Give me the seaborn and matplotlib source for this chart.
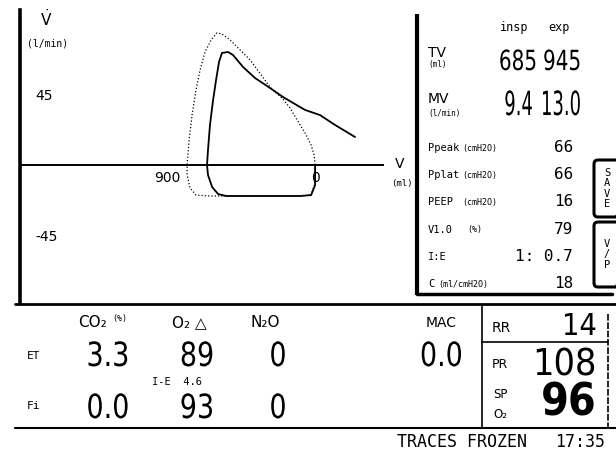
import os
import matplotlib
matplotlib.use('Agg')
import matplotlib.pyplot as plt
import seaborn as sns
import pandas as pd
from matplotlib import font_manager, patheffects
from matplotlib.font_manager import FontProperties
from matplotlib.patches import FancyBboxPatch
from matplotlib.transforms import Affine2D

# flow-volume loop (volume in ml, flow in l/min)
loop_vol = [0, 0, 24, 91, 395, 541, 590, 626, 651, 657, 651, 639, 620, 602, 584,
            566, 529, 499, 438, 365, 274, 195, 134, 61, -30, -122, -182, -243]
loop_flow = [0, -12.9, -19.3, -19.9, -19.9, -19.9, -18.6, -14.1, -6.4, 0, 9.6, 25.7,
             41.8, 54.6, 66.2, 72.0, 72.6, 70.7, 63.0, 55.9, 49.5, 43.7, 39.9, 35.4,
             32.1, 25.7, 21.9, 18.0]

# reference loop (dotted)
ref_vol = [0, 0, 24, 91, 395, 639, 724, 760, 778, 778, 766, 748, 724, 699, 669, 632,
           596, 566, 517, 395, 274, 195, 152, 109, 61, 24, 6, 0]
ref_flow = [0, -11.6, -19.3, -19.9, -19.9, -19.9, -19.3, -14.8, -6.4, 0, 16.1, 32.1,
            48.2, 61.1, 72.6, 80.4, 84.9, 84.2, 80.4, 67.5, 50.1, 42.4, 36.6, 28.9,
            20.6, 12.9, 6.4, 0]

vol_ticks = [1350, 900, 450, 0]
vol_ticklabels = ['', '900', '', '0']
flow_ticks = [45, -45]

tv_insp, tv_exp = '685', '945'
mv_insp, mv_exp = '9.4', '13.0'
row_labels = ['Ppeak', 'Pplat', 'PEEP', 'V1.0', 'I:E', 'C']
row_units = ['(cmH2O)', '(cmH2O)', '(cmH2O)', '(%)', '', '(ml/cmH2O)']
row_values = ['66', '66', '16', '79', '1: 0.7', '18']

gas_names = ['CO\u2082', 'O\u2082 \u25b3', 'N\u2082O']
gas_et = ['3.3', '89', '0']
gas_fi = ['0.0', '93', '0']
mac_et = '0.0'
ie_text = 'I-E  4.6'
rr, pr, spo2 = '14', '108', '96'
footer, clock = 'TRACES FROZEN', '17:35'


# look for a narrow face for the big monitor digits
def narrow_font(cands):
    files = {os.path.basename(f.fname): f.fname for f in font_manager.fontManager.ttflist}
    for c in cands:
        if c in files:
            return FontProperties(fname=files[c]), 1.0
    return FontProperties(family='DejaVu Sans'), 0.78


BIG, k = narrow_font(['NotoSans-Condensed.ttf', 'NotoSans-SemiCondensed.ttf',
                      'DejaVuSansCondensed.ttf', 'LiberationSansNarrow-Regular.ttf'])
BIGB, kb = narrow_font(['NotoSans-CondensedBold.ttf', 'NotoSans-SemiCondensedBold.ttf',
                        'DejaVuSansCondensed-Bold.ttf', 'LiberationSansNarrow-Bold.ttf'])
if kb < 1:
    BIGB.set_weight('bold')


# squeeze glyphs sideways around the anchor, like the tall monitor digits
class Squeeze(patheffects.AbstractPathEffect):
    def __init__(self, sx, x0):
        super().__init__()
        self.sx, self.x0 = sx, x0

    def draw_path(self, renderer, gc, tpath, affine, rgbFace=None):
        t = affine + Affine2D().translate(-self.x0, 0).scale(self.sx, 1).translate(self.x0, 0)
        renderer.draw_path(gc, tpath, t, rgbFace)


sns.set_theme(style='white')
plt.rcParams['font.family'] = ['DejaVu Sans']
plt.rcParams['mathtext.fontset'] = 'dejavusans'
MONO = 'DejaVu Sans Mono'

W, H = 616, 450
fig = plt.figure(figsize=(W / 100, H / 100), dpi=100)

# loop axes, placed in screen pixels
ax = fig.add_axes([20 / W, 1 - 302 / H, (383 - 20) / W, (302 - 10) / H])
loop = pd.DataFrame({'vol': loop_vol, 'flow': loop_flow})
ref = pd.DataFrame({'vol': ref_vol, 'flow': ref_flow})
sns.lineplot(data=ref, x='vol', y='flow', sort=False, estimator=None, color='black',
             lw=0.9, linestyle=':', ax=ax)
sns.lineplot(data=loop, x='vol', y='flow', sort=False, estimator=None, color='black',
             lw=1.3, ax=ax)
ax.set_xlim(1794, -413)
ax.set_ylim(-88, 99.6)
ax.set_xlabel('')
ax.set_ylabel('')
ax.set_facecolor('none')
for s in ['top', 'right']:
    ax.spines[s].set_visible(False)
ax.spines['left'].set_linewidth(2.6)
ax.spines['left'].set_color('black')
ax.spines['bottom'].set_position(('data', 0))
ax.spines['bottom'].set_linewidth(1.4)
ax.spines['bottom'].set_color('black')
ax.set_xticks(vol_ticks, labels=vol_ticklabels)
ax.set_yticks(flow_ticks, labels=[str(v) for v in flow_ticks])
ax.tick_params(axis='both', direction='inout', length=8, width=1.2, color='black',
               labelcolor='black', labelsize=10)
ax.tick_params(axis='x', pad=0)
ax.tick_params(axis='y', pad=-15)
for lab in ax.get_yticklabels():
    lab.set_ha('left')

# overlay in screen pixels for the monitor panels
ov = fig.add_axes([0, 0, 1, 1])
ov.set_xlim(0, W)
ov.set_ylim(H, 0)
ov.axis('off')


def txt(x, y, s, size, ha='left', fam=MONO, **kw):
    ov.text(x, y, s, fontsize=size, ha=ha, va='baseline', family=fam, color='black', **kw)


def num(x, y, s, size, ha='center', bold=False, sx=1.0):
    fp = (BIGB if bold else BIG).copy()
    fp.set_size(size * (kb if bold else k))
    t = ov.text(x, y, s, fontproperties=fp, ha=ha, va='baseline', color='black')
    if sx != 1.0:
        t.set_path_effects([Squeeze(sx, x)])


txt(40, 26, r'$\dot{\mathrm{V}}$', 11, fam='DejaVu Sans')
txt(27, 47, '(l/min)', 7)
txt(395, 168, 'V', 10, fam='DejaVu Sans')
txt(391, 186, '(ml)', 6.5)

# ventilation panel
ov.plot([417, 417], [14, 295], color='black', lw=3, solid_capstyle='butt')
ov.plot([417, 612], [294, 294], color='black', lw=2.5)
txt(500, 31, 'insp', 8.5)
txt(548, 31, 'exp', 8.5)
txt(428, 57, 'TV', 10, fam='DejaVu Sans')
txt(428, 67, '(ml)', 5.5)
num(537, 70, tv_insp, 20, ha='right', sx=0.8)
num(543, 70, tv_exp, 20, ha='left', sx=0.8)
txt(428, 103, 'MV', 10, fam='DejaVu Sans')
txt(428, 116, '(l/min)', 5.5)
num(533, 115, mv_insp, 24, ha='right', sx=0.6)
num(541, 115, mv_exp, 24, ha='left', sx=0.6)
for i, (lab, unit, val) in enumerate(zip(row_labels, row_units, row_values)):
    yb = 151 + i * 27.2
    txt(428, yb, lab, 7.5)
    ux = {'(%)': 467, '(ml/cmH2O)': 438}.get(unit, 462)
    txt(ux, yb - 0.5, unit, 6)
    txt(573, yb + 1, val, 11.5, ha='right')

for y0, h, letters in [(160, 57, 'S\nA\nV\nE'), (222, 65, 'V\n/\nP')]:
    ov.add_patch(FancyBboxPatch((594, y0), 26, h, boxstyle='round,pad=0,rounding_size=4',
                                fc='none', ec='black', lw=2.2))
    ov.text(607, y0 + h / 2, letters, fontsize=7.5, family=MONO, ha='center', va='center',
            linespacing=1.05, color='black')

# gas panel
ov.plot([15, 616], [304, 304], color='black', lw=2)
ov.plot([15, 616], [428, 428], color='black', lw=1.5)
for x, name in zip([78, 172, 250], gas_names):
    txt(x, 327, name, 11, fam='DejaVu Sans')
txt(112, 321, '(%)', 6)
txt(457, 327, 'MAC', 10, ha='right', fam='DejaVu Sans')
txt(27, 359, 'ET', 8)
txt(27, 409, 'Fi', 8)
for x, et, fi in zip([108, 197, 278], gas_et, gas_fi):
    num(x, 366, et, 24, sx=0.9)
    num(x, 418, fi, 24, sx=0.9)
num(463, 366, mac_et, 24, ha='right', sx=0.9)
txt(152, 385, ie_text, 7.5)

# vitals box
ov.plot([482, 482], [306, 428], color='black', lw=1.2)
ov.plot([482, 608], [342, 342], color='black', lw=1.2)
ov.plot([608, 608], [314, 428], color='black', lw=1.2, linestyle=(0, (4, 1)))
txt(492, 332, 'RR', 10, fam='DejaVu Sans')
num(597, 335, rr, 22, ha='right')
txt(492, 368, 'PR', 9, fam='DejaVu Sans')
num(597, 375, pr, 27, ha='right')
txt(493, 398, 'SP', 8.5, fam='DejaVu Sans')
txt(493, 418, 'O\u2082', 8.5, fam='DejaVu Sans')
num(597, 415, spo2, 32, ha='right', bold=True)

txt(397, 447, footer, 12)
txt(605, 447, clock, 12, ha='right')

fig.savefig('out.png', dpi=100, facecolor='white')
